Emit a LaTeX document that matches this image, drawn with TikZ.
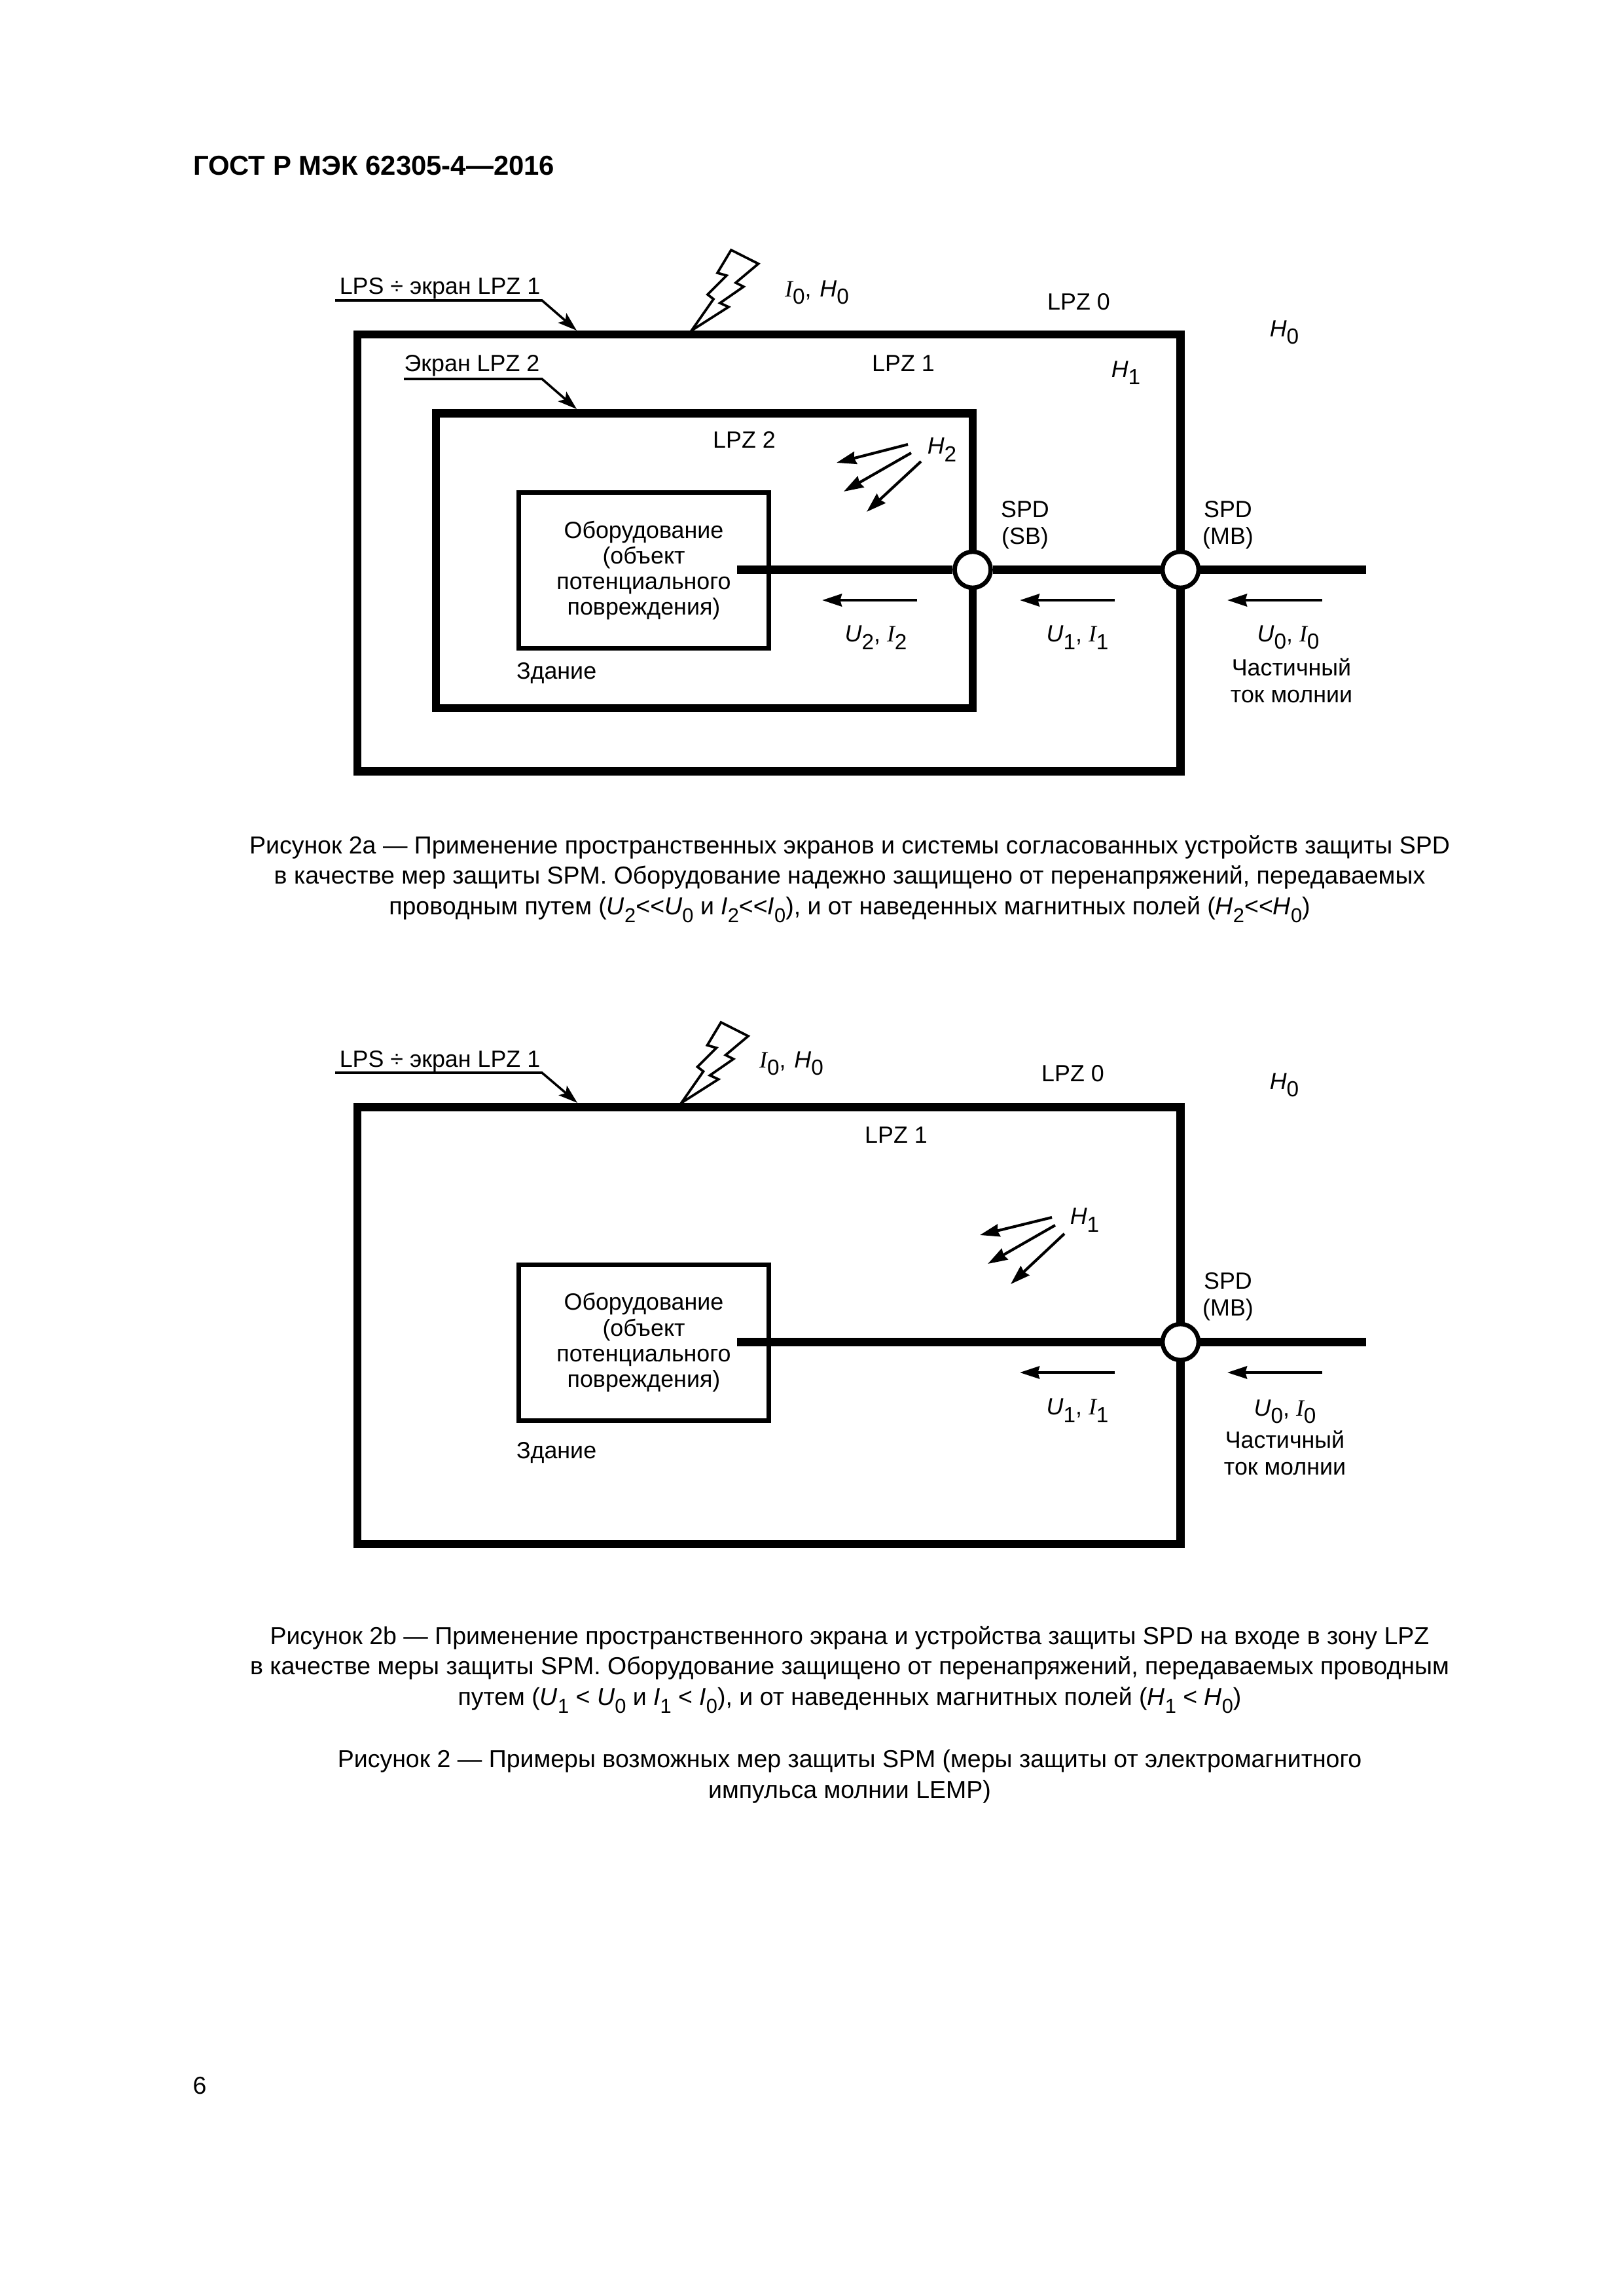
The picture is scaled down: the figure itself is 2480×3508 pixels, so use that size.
\documentclass[tikz,border=0pt]{standalone}
\usepackage{fontspec}
\setmainfont{Liberation Sans}
\newfontfamily\ifam{Liberation Serif}
\usetikzlibrary{positioning,arrows.meta}
\newcommand{\idx}[2]{\textit{#1}\raisebox{-0.6ex}{\fontsize{8}{9}\selectfont #2}}
\newcommand{\sidx}[2]{{\ifam\itshape #1}\raisebox{-0.6ex}{\fontsize{8}{9}\selectfont #2}}
\newcommand{\capidx}[2]{\textit{#1}\raisebox{-0.6ex}{\fontsize{7.4}{9}\selectfont #2}}

\begin{document}
\begin{tikzpicture}[
    x=0.24pt, y=-0.24pt,
    node distance=10pt and 10pt,
    every node/.style={inner sep=0pt,outer sep=0pt},
    screen/.style={rectangle,draw=black,line width=3pt},
    outerscreen/.style={screen,minimum width=301.8pt,minimum height=160.2pt},
    innerscreen/.style={screen,minimum width=196.8pt,minimum height=108.1pt},
    equip/.style={rectangle,draw=black,line width=1.7pt,minimum width=91.7pt,minimum height=57.1pt,
      align=center,font=\fontsize{8.6}{9.4}\selectfont},
    spd/.style={circle,draw=black,fill=white,line width=1.6pt,minimum size=13.2pt,outer sep=0.8pt},
    lbl/.style={font=\fontsize{8.6}{9.8}\selectfont,align=center},
    capt/.style={font=\fontsize{9}{11.2}\selectfont,align=center},
    wire/.style={line width=3.1pt},
    leader/.style={line width=0.85pt,-{Stealth[length=7pt,width=4.6pt,inset=1.5pt]}},
    flow/.style={line width=1pt,-{Stealth[length=7.2pt,width=4.6pt,inset=0.6pt]}},
    bolt/.style={draw=black,fill=white,line width=0.9pt,line join=miter}
  ]
    \useasboundingbox (0,0) rectangle (2480,3508);
    \node[font=\fontsize{10.05}{12}\selectfont\bfseries,anchor=west] (header) at (295,253) {ГОСТ Р МЭК 62305-4—2016};

    % figure 2a
    \node[outerscreen] (lpsa)   at (1174.75,845) {};
    \node[innerscreen] (lpzb)   at (1076,856.75) {};
    \node[equip]       (equipa) at (983.5,871.5) {Оборудование\\(объект\\потенциального\\повреждения)};
    \node[spd]         (spdsb)  at (1486,870.5) {};
    \node[spd]         (spdmba) at (1803.5,870.5) {};
    \coordinate (feeda)  at (1126,870.5);
    \coordinate (entrya) at (2087,870.5);
    \draw[wire] (feeda) -- (spdsb);
    \draw[wire] (spdsb) -- (spdmba);
    \draw[wire] (spdmba) -- (entrya);

    \node[lbl] (lpslaba) at (672,441) {LPS ÷ экран LPZ 1};
    \coordinate (lpsua) at (512,459);
    \coordinate (lpsba) at (828,459);
    \coordinate (lpsha) at (881,505);
    \draw[leader] (lpsua) -- (lpsba) -- (lpsha);
    \node[lbl] (shlab) at (721,559) {Экран LPZ 2};
    \coordinate (shu) at (617,579);
    \coordinate (shb) at (828,579);
    \coordinate (shh) at (881,625);
    \draw[leader] (shu) -- (shb) -- (shh);

    \draw[bolt] (1056.5,505) -- (1090,457) -- (1081,450) -- (1110,421) -- (1096,417) -- (1117,382)
      -- (1158.5,403) -- (1124,432) -- (1136,438) -- (1100,463) -- (1113,469) -- cycle;

    \node[lbl] (ihofa) at (1248,447) {\sidx{I}{0}, \kern0.7pt\idx{H}{0}};
    \node[lbl] (lpz0a) at (1648,461) {LPZ 0};
    \node[lbl] (hoa)   at (1962,508) {\idx{H}{0}};
    \node[lbl] (lpz1a) at (1380,555) {LPZ 1};
    \node[lbl] (hfa)   at (1720,570) {\idx{H}{1}};
    \node[lbl] (lpz2)  at (1137,672) {LPZ 2};
    \node[lbl] (hs)    at (1439,687) {\idx{H}{2}};
    \node[lbl] (spdsbt)  at (1566,802) {SPD\\(SB)};
    \node[lbl] (spdmbat) at (1876,802) {SPD\\(MB)};
    \node[lbl] (uis)   at (1338,974) {\idx{U}{2}, \sidx{I}{2}};
    \node[lbl] (uia)   at (1646,974) {\idx{U}{1}, \sidx{I}{1}};
    \node[lbl] (uoa)   at (1968,974) {\idx{U}{0}, \sidx{I}{0}};
    \node[lbl] (parta) at (1973,1040) {Частичный\\ток молнии};
    \node[lbl,anchor=west] (buildinga) at (789,1029) {Здание};

    \foreach \xs/\ys/\xe/\ye/\nm in {1387/679/1278/707/h, 1392/692/1289/751/i, 1407/705/1324/782/j}{
      \coordinate (\nm s) at (\xs,\ys);
      \coordinate (\nm e) at (\xe,\ye);
      \draw[flow] (\nm s) -- (\nm e);
    }
    \foreach \xs/\xe/\nm in {1401/1256/k, 1703/1558/l, 2020/1875/m}{
      \coordinate (\nm s) at (\xs,917);
      \coordinate (\nm e) at (\xe,917);
      \draw[flow] (\nm s) -- (\nm e);
    }

    \node[capt] (capa) at (1298,1343) {Рисунок 2а — Применение пространственных экранов и системы согласованных устройств защиты SPD\\
      в качестве мер защиты SPM. Оборудование надежно защищено от перенапряжений, передаваемых\\
      проводным путем (\capidx{U}{2}<\kern0pt<\capidx{U}{0} и \capidx{I}{2}<\kern0pt<\capidx{I}{0}), и от наведенных магнитных полей (\capidx{H}{2}<\kern0pt<\capidx{H}{0})};

    % figure 2b
    \node[outerscreen] (lpsb)   at (1174.75,2025.25) {};
    \node[equip]       (equipb) at (983.5,2051.25) {Оборудование\\(объект\\потенциального\\повреждения)};
    \node[spd]         (spdmbb) at (1803.5,2050.5) {};
    \coordinate (feedb)  at (1126,2050.5);
    \coordinate (entryb) at (2087,2050.5);
    \draw[wire] (feedb) -- (spdmbb);
    \draw[wire] (spdmbb) -- (entryb);

    \node[lbl] (lpslabb) at (672,1622) {LPS ÷ экран LPZ 1};
    \coordinate (lpsub) at (512,1639);
    \coordinate (lpsbb) at (828,1639);
    \coordinate (lpshb) at (882,1685);
    \draw[leader] (lpsub) -- (lpsbb) -- (lpshb);

    \draw[bolt] (1041,1685) -- (1074.5,1637) -- (1065.5,1630) -- (1094.5,1601) -- (1080.5,1597) -- (1101.5,1562)
      -- (1143,1583) -- (1108.5,1612) -- (1120.5,1618) -- (1084.5,1643) -- (1097.5,1649) -- cycle;

    \node[lbl] (ihob)  at (1209,1625) {\sidx{I}{0}, \kern0.7pt\idx{H}{0}};
    \node[lbl] (lpz0b) at (1639,1640) {LPZ 0};
    \node[lbl] (hob)   at (1962,1658) {\idx{H}{0}};
    \node[lbl] (lpz1b) at (1369,1734) {LPZ 1};
    \node[lbl] (hfb)   at (1657,1864) {\idx{H}{1}};
    \node[lbl] (spdmbbt) at (1876,1981) {SPD\\(MB)};
    \node[lbl] (uib)   at (1646,2155) {\idx{U}{1}, \sidx{I}{1}};
    \node[lbl] (uob)   at (1963,2157) {\idx{U}{0}, \sidx{I}{0}};
    \node[lbl] (partb) at (1963,2220) {Частичный\\ток молнии};
    \node[lbl,anchor=west] (buildingb) at (789,2220) {Здание};

    \foreach \xs/\ys/\xe/\ye/\nm in {1607/1860/1497/1887/p, 1612/1872/1509/1931/q, 1626/1885/1544/1962/r}{
      \coordinate (\nm s) at (\xs,\ys);
      \coordinate (\nm e) at (\xe,\ye);
      \draw[flow] (\nm s) -- (\nm e);
    }
    \foreach \xs/\xe/\nm in {1703/1558/t, 2020/1875/u}{
      \coordinate (\nm s) at (\xs,2097);
      \coordinate (\nm e) at (\xe,2097);
      \draw[flow] (\nm s) -- (\nm e);
    }

    \node[capt] (capb) at (1298,2551) {Рисунок 2b — Применение пространственного экрана и устройства защиты SPD на входе в зону LPZ\\
      в качестве меры защиты SPM. Оборудование защищено от перенапряжений, передаваемых проводным\\
      путем (\capidx{U}{1} < \capidx{U}{0} и \capidx{I}{1} < \capidx{I}{0}), и от наведенных магнитных полей (\capidx{H}{1} < \capidx{H}{0})};
    \node[capt] (capall) at (1298,2714) {Рисунок 2 — Примеры возможных мер защиты SPM (меры защиты от электромагнитного\\
      импульса молнии LEMP)};

    \node[font=\fontsize{9}{12}\selectfont] (pagenum) at (305,3187) {6};
  \end{tikzpicture}
\end{document}
